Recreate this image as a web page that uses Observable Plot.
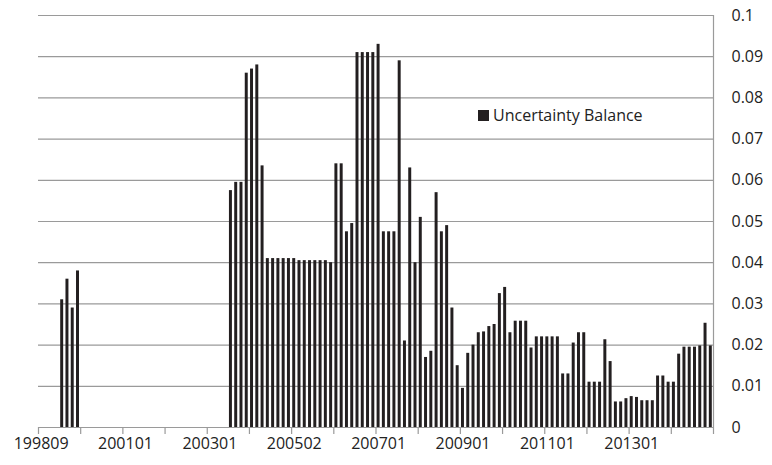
<!DOCTYPE html>
<html><head><meta charset="utf-8">
<script src="https://cdn.jsdelivr.net/npm/d3@7"></script>
<script src="https://cdn.jsdelivr.net/npm/@observablehq/plot@0.6"></script>
<style>body{margin:0;background:#fff;font-family:"Open Sans",sans-serif}</style>
</head><body><div id="chart"></div>
<script>
// Uncertainty balance by period index (null = no bar)
const values = new Array(128).fill(null);
const groupA = [[4,0.031],[5,0.036],[6,0.029],[7,0.038]];
const groupB = [0.0575,0.0595,0.0595,0.086,0.087,0.088,0.0635,
  0.041,0.041,0.041,0.041,0.041,0.041,0.0405,0.0405,0.0405,0.0405,0.0405,0.0405,0.040,
  0.064,0.064,0.0475,0.0495,0.091,0.091,0.091,0.091,0.093,0.0475,0.0475,0.0475,0.089,0.021,
  0.063,0.040,0.051,0.017,0.0185,0.057,0.0475,0.049,0.029,0.015,0.0095,
  0.018,0.020,0.023,0.0232,0.0245,0.025,0.0325,0.034,0.023,0.0258,0.0258,0.0258,0.0193,
  0.022,0.022,0.022,0.022,0.022,0.013,0.013,0.0205,0.023,0.023,0.011,0.011,0.011,0.0213,0.016,
  0.0062,0.0062,0.007,0.0075,0.0073,0.0065,0.0065,0.0065,0.0125,0.0125,0.011,0.011,0.0178,
  0.0195,0.0195,0.0195,0.0198,0.0253,0.0198];
groupA.forEach(([i,v]) => values[i] = v);
groupB.forEach((v,k) => values[36+k] = v);
const data = values.map((v,i) => ({i, v})).filter(d => d.v !== null);

const tickLabels = ["199809","200101","200301","200502","200701","200901","201101","201301"];
const labelEvery = 16, tickEvery = 8;

const chart = Plot.plot({
  width: 772, height: 465,
  marginLeft: 38, marginRight: 59, marginTop: 15, marginBottom: 38,
  style: {fontFamily: "Open Sans, sans-serif", fontSize: "16px", color: "#222"},
  x: {domain: [0, 128], axis: null},
  y: {domain: [0, 0.1], axis: null},
  marks: [
    Plot.ruleY(d3.range(0.01, 0.1001, 0.01), {stroke: "#9a9a9a", strokeWidth: 1.2}),
    Plot.ruleX([128], {stroke: "#9a9a9a", strokeWidth: 1.2}),
    Plot.rectY(data, {x1: d => d.i, x2: d => d.i + 1, y: "v", fill: "#231f20", insetLeft: 1.1, insetRight: 1.2}),
    Plot.ruleY([0], {stroke: "#9a9a9a", strokeWidth: 1.2}),
    Plot.ruleX(d3.range(0, 129, tickEvery), {x: d => d, y1: 0, y2: 0, insetBottom: -7, stroke: "#9a9a9a", strokeWidth: 1.2}),
    Plot.text(tickLabels, {x: (d, k) => k * labelEvery + 0.5, y: 0, dy: 16, text: d => d, fill: "#222", fontSize: 16}),
    Plot.axisY({anchor: "right", ticks: d3.range(0, 0.1001, 0.01), tickSize: 0, tickPadding: 18, label: null,
      tickFormat: d => d3.format(".2~f")(d), fill: "#222", textAnchor: "start", fontSize: 16})
  ]
});
const wrap = document.createElement("div");
wrap.style.position = "relative";
wrap.append(chart);
const leg = document.createElement("div");
leg.style.cssText = "position:absolute;left:478px;top:104px;font-size:16px;color:#222;display:flex;align-items:center;gap:4px";
leg.innerHTML = '<span style="display:inline-block;width:11px;height:11px;background:#231f20"></span>Uncertainty Balance';
wrap.append(leg);
document.getElementById("chart").append(wrap);
</script></body></html>
